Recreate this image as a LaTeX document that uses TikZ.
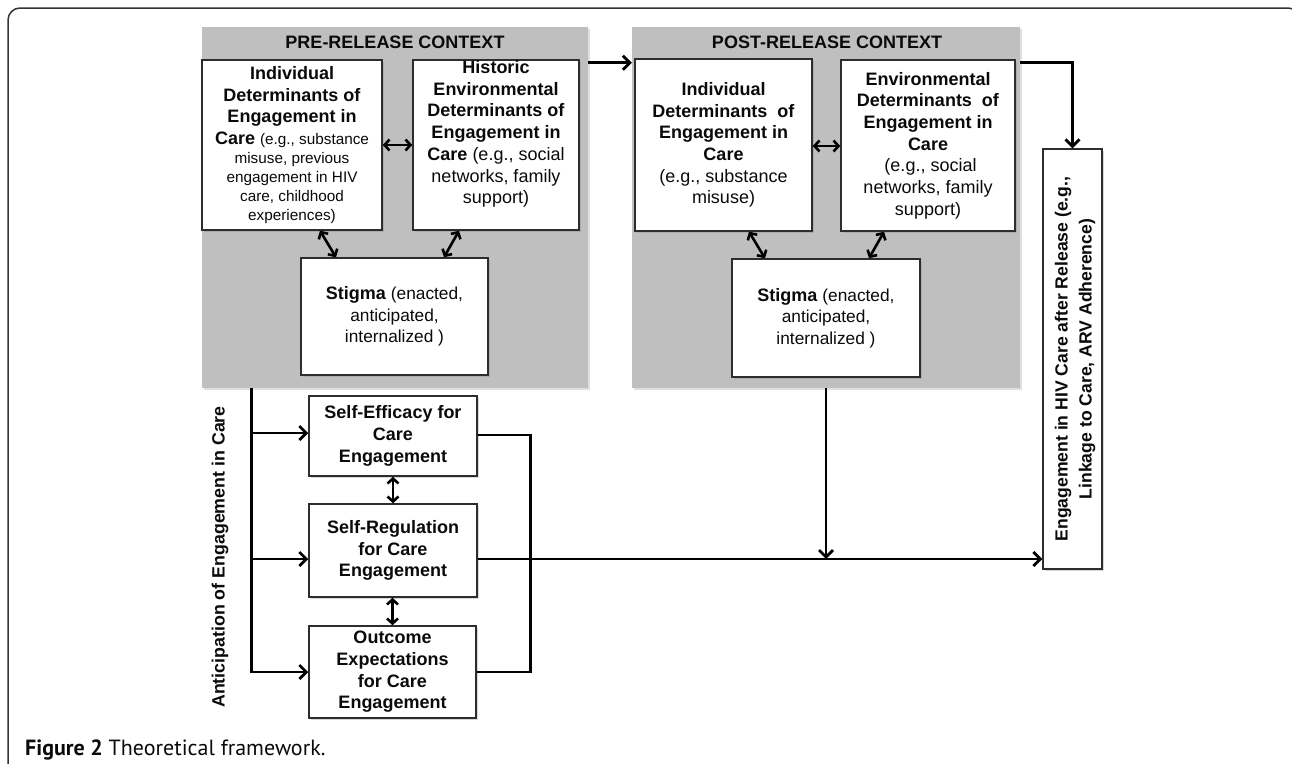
\documentclass[tikz,border=0pt]{standalone}
\usepackage{fontspec}
\setmainfont{Liberation Sans}
\newfontfamily\capfont{PT Sans}
\usetikzlibrary{arrows.meta,calc,shadows}
\definecolor{panelgray}{RGB}{191,191,191}
\definecolor{boxline}{RGB}{45,45,45}
\definecolor{txt}{RGB}{10,10,10}
\newcommand\smtxt[1]{{\fontsize{15.3}{19}\selectfont #1}}
\begin{document}
\begin{tikzpicture}[x=1pt,y=-1pt,
  panel/.style={fill=panelgray, draw=none, inner sep=0,
    drop shadow={shadow xshift=1.5pt,shadow yshift=-1.5pt,opacity=0.25}},
  box/.style={draw=boxline, line width=1.5pt, fill=white, inner sep=0,
    align=center, text=txt, font=\fontsize{18}{21.7}\selectfont,
    drop shadow={shadow xshift=1.5pt,shadow yshift=-1.5pt,opacity=0.3}},
  lbl/.style={align=center, text=txt, inner sep=0, font=\fontsize{18}{21.7}\selectfont},
  title/.style={text=txt, inner sep=0, font=\bfseries\fontsize{18}{21.7}\selectfont},
  arr/.style={line width=2.8pt, draw=black, -{Straight Barb[length=7pt,width=14pt]}},
  line/.style={line width=2.8pt, draw=black},
  darr/.style={line width=2.6pt, draw=black,
    {Straight Barb[length=5pt,width=11pt]}-{Straight Barb[length=5pt,width=11pt]}}
]
\useasboundingbox (0,0) rectangle (1292,763);
% outer frame
\draw[line width=1.5pt, draw=black!80, rounded corners=12pt]
  (8,775) -- (8,8) -- (1300,8) -- (1300,775);

% panels
\node[panel, minimum width=386pt, minimum height=361pt] (pre) at (395,207.5) {};
\node[panel, minimum width=388pt, minimum height=361pt] (post) at (826,207.5) {};
\node[title] (pretitle) at (395,42) {PRE-RELEASE CONTEXT};
\node[title] (posttitle) at (827,42) {POST-RELEASE CONTEXT};

% pre-release boxes
\node[box, minimum width=180pt, minimum height=170pt] (pl) at (292,145)
  {\textbf{Individual}\\ \textbf{Determinants of}\\ \textbf{Engagement in}\\
   \textbf{Care} \smtxt{(e.g., substance}\\[-2.7pt] \smtxt{misuse, previous}\\[-2.7pt]
   \smtxt{engagement in HIV}\\[-2.7pt] \smtxt{care, childhood}\\[-2.7pt] \smtxt{experiences)}};
\node[box, minimum width=166pt, minimum height=170pt] (pr) at (496,145) {};
\node[lbl] (prt) at (496,134)
  {\textbf{Historic}\\ \textbf{Environmental}\\ \textbf{Determinants of}\\ \textbf{Engagement in}\\
   \textbf{Care} (e.g., social\\ networks, family\\ support)};
\node[box, minimum width=187pt, minimum height=117pt, font=\fontsize{17.3}{21.7}\selectfont] (ps) at (394.5,316.5)
  {\textbf{\fontsize{18}{21.7}\selectfont Stigma} (enacted,\\ anticipated,\\ internalized )};

% post-release boxes
\node[box, minimum width=177pt, minimum height=172pt] (ql) at (723.5,145)
  {\textbf{Individual}\\ \textbf{Determinants\ \ of}\\ \textbf{Engagement in}\\ \textbf{Care}\\
   (e.g., substance\\ misuse)};
\node[box, minimum width=174pt, minimum height=171pt] (qr) at (928,145.5)
  {\textbf{Environmental}\\ \textbf{Determinants\ \ of}\\ \textbf{Engagement in}\\ \textbf{Care}\\
   \ (e.g., social\\ networks, family\\ support)};
\node[box, minimum width=188pt, minimum height=118pt, font=\fontsize{17.3}{21.7}\selectfont] (qs) at (826,318)
  {\textbf{\fontsize{18}{21.7}\selectfont Stigma} (enacted,\\ anticipated,\\ internalized )};

% arrows inside panels
\draw[darr] (pl.east |- 0,145) -- (pr.west |- 0,145);
\draw[darr] ([xshift=28pt]pl.south) -- ([xshift=-58.5pt]ps.north);
\draw[darr] ([xshift=-37pt]pr.south) -- ([xshift=49.5pt]ps.north);
\draw[darr] (ql.east |- 0,146) -- (qr.west |- 0,146);
\draw[darr] ([xshift=25.5pt]ql.south) -- ([xshift=-61pt]qs.north);
\draw[darr] ([xshift=-44pt]qr.south) -- ([xshift=43pt]qs.north);

% outcome box
\node[draw=boxline, line width=1.2pt, fill=white, minimum width=59pt, minimum height=420pt, inner sep=0,
  drop shadow={shadow xshift=1.5pt,shadow yshift=-1.5pt,opacity=0.3}] (eng) at (1072.5,359) {};
\node[lbl, rotate=90, font=\bfseries\fontsize{17.6}{24}\selectfont] (engt) at (1075,359)
  {Engagement in HIV Care after Release (e.g.,\\ Linkage to Care, ARV Adherence)};

% pre -> post, post -> outcome
\draw[arr] ($(pre.north east)+(0,36)$) -- ($(post.north west)+(0,36)$);
\draw[arr] ($(post.north east)+(0,36)$) -| (eng.north);

% anticipation boxes
\node[box, minimum width=168pt, minimum height=80pt] (se) at (393,436)
  {\textbf{Self-Efficacy for}\\ \textbf{Care}\\ \textbf{Engagement}};
\node[box, minimum width=168pt, minimum height=93pt] (sr) at (393,550.5)
  {\textbf{Self-Regulation}\\ \textbf{for Care}\\ \textbf{Engagement}};
\node[box, minimum width=167pt, minimum height=92pt] (oe) at (392.5,672)
  {\textbf{Outcome}\\ \textbf{Expectations}\\ \textbf{for Care}\\ \textbf{Engagement}};
\node[lbl, rotate=90, font=\bfseries\fontsize{17.8}{21.7}\selectfont] (antic) at (220,557)
  {Anticipation of Engagement in Care};

\draw[darr] (se.south) -- (sr.north);
\draw[darr] (sr.south -| oe.north) -- (oe.north);

% trunk and branches
\coordinate (trunk) at ($(pre.south west)+(50,0)$);
\draw[arr] (trunk) |- (oe.west);
\draw[arr] (trunk |- 0,433) -- (se.west |- 0,433);
\draw[arr] (trunk |- 0,559) -- (sr.west |- 0,559);

% right side bracket
\draw[line] (se.east |- 0,435) -- ++(53,0) |- (oe.east);
\draw[arr] (sr.east |- 0,559) -- (eng.west |- 0,559);
\draw[arr] (post.south) -- (post.south |- 0,559);

% caption
\node[anchor=base west, inner sep=0, text=txt, font=\capfont\fontsize{22}{26}\selectfont] (cap) at (25,755)
  {\textbf{Figure 2} Theoretical framework.};
\end{tikzpicture}
\end{document}
